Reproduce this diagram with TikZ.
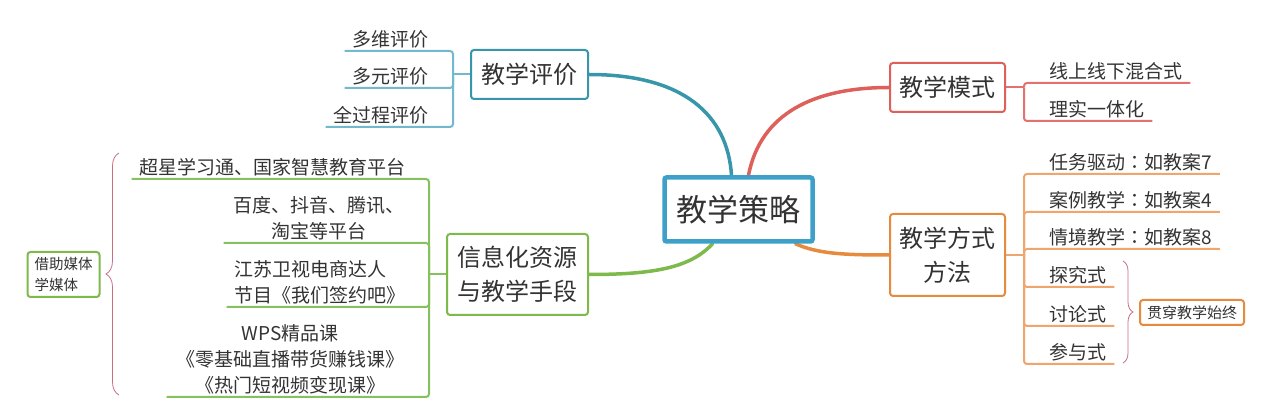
\documentclass[tikz,border=0pt]{standalone}
\usepackage{fontspec}
\newfontfamily\cjk{Noto Sans CJK SC}
\newfontfamily\cjktc{Noto Sans CJK TC}
\newcommand\midcolon{{\cjktc ：}}
\usepackage{tikz}
\usetikzlibrary{positioning, backgrounds, decorations.pathreplacing}
\usepackage{xcolor}
\definecolor{mapink}{RGB}{51,51,51}
\definecolor{hubblue}{RGB}{60,160,200}
\definecolor{evalteal}{RGB}{55,150,170}
\definecolor{evalleaf}{RGB}{115,185,205}
\definecolor{modered}{RGB}{222,96,90}
\definecolor{modeleaf}{RGB}{228,112,112}
\definecolor{methodorange}{RGB}{230,138,62}
\definecolor{methodleaf}{RGB}{238,165,110}
\definecolor{infogreen}{RGB}{125,185,75}
\definecolor{infoleaf}{RGB}{135,192,95}
\definecolor{bracepink}{RGB}{200,110,130}

\begin{document}
\begin{tikzpicture}[x=1pt, y=-1pt,
  hub/.style={draw=hubblue, line width=4.5pt, fill=white, rounded corners=2pt,
              minimum width=148, minimum height=64, text=mapink,
              font=\cjk\fontsize{31}{36}\selectfont},
  topic/.style={draw, line width=2pt, fill=white, rounded corners=3pt,
                minimum width=115, minimum height=49, align=center, text=mapink,
                font=\cjk\fontsize{24}{34}\selectfont},
  leaf/.style={inner xsep=8pt, inner ysep=3pt, align=center, text=mapink,
               font=\cjk\fontsize{19}{26}\selectfont},
  note/.style={draw, line width=2pt, fill=white, rounded corners=3pt,
               inner xsep=7pt, text=mapink, font=\cjk\fontsize{14.5}{21}\selectfont},
  branch/.style={line width=3.5pt, line cap=round},
  twig/.style={line width=2pt, rounded corners=3pt},
  curly/.style={draw=bracepink, line width=0.8pt, decorate,
                decoration={brace, amplitude=#1}},
]
  \useasboundingbox (0,0) rectangle (1280,419);

  \node[hub] (hub) at (738.5,209.5) {教学策略};

  \node[topic, draw=evalteal, minimum width=117] (eval) at (529.5,74.5) {教学评价};
  \node[topic, draw=modered] (mode) at (947.5,87.5) {教学模式};
  \node[topic, draw=methodorange, minimum height=82] (method) at (947.5,255) {教学方式\\方法};
  \node[topic, draw=infogreen, minimum width=141, minimum height=81] (info) at (517.5,274.5) {信息化资源\\与教学手段};

  \begin{scope}[on background layer]
    \draw[branch, evalteal] (eval.east) .. controls +(95,0) and +(-4,-60) .. ([xshift=-7]hub.north);
    \draw[branch, modered] ([xshift=10]hub.north) .. controls +(12,-62) and +(-75,0) .. (mode.west);
    \draw[branch, infogreen] ([xshift=-26]hub.south) .. controls +(-22,24) and +(65,0) .. (info.east);
    \draw[branch, methodorange] ([xshift=57]hub.south) .. controls +(22,10) and +(-45,0) .. (method.west);
  \end{scope}

  % evaluation
  \coordinate (evaltrunk) at ([xshift=-17]eval.west);
  \node[leaf, anchor=south east] (e1) at (437,51) {多维评价};
  \node[leaf, anchor=south east] (e2) at (437,88) {多元评价};
  \node[leaf, anchor=south east] (e3) at (437,127) {全过程评价};
  \draw[twig, evalleaf] (eval.west) -- (evaltrunk);
  \foreach \leafname in {e1,e2,e3}
    \draw[twig, evalleaf] (evaltrunk) |- (\leafname.south west);

  % mode
  \coordinate (modetrunk) at ([xshift=18]mode.east);
  \node[leaf, anchor=south west] (m1) at (1041,83) {线上线下混合式};
  \node[leaf, anchor=south west] (m2) at (1041,121) {理实一体化};
  \draw[twig, modeleaf] (mode.east) -- (modetrunk);
  \foreach \leafname in {m1,m2}
    \draw[twig, modeleaf] (modetrunk) |- (\leafname.south east);

  % methods
  \coordinate (methodtrunk) at ([xshift=18]method.east);
  \node[leaf, anchor=south west] (w1) at (1041,174) {任务驱动\midcolon 如教案7};
  \node[leaf, anchor=south west] (w2) at (1041,212) {案例教学\midcolon 如教案4};
  \node[leaf, anchor=south west] (w3) at (1041,249) {情境教学\midcolon 如教案8};
  \node[leaf, anchor=south west] (w4) at (1041,287) {探究式};
  \node[leaf, anchor=south west] (w5) at (1041,326) {讨论式};
  \node[leaf, anchor=south west] (w6) at (1041,364) {参与式};
  \draw[twig, methodleaf] (method.east) -- (methodtrunk);
  \foreach \leafname in {w1,w2,w3,w4,w5,w6}
    \draw[twig, methodleaf] (methodtrunk) |- (\leafname.south east);

  \coordinate (spantop) at (1123,261);
  \coordinate (spanbottom) at (1123,363);
  \draw[curly=10] (spantop) -- (spanbottom);
  \node[note, draw=methodorange, font=\cjk\fontsize{15}{18}\selectfont,
        minimum height=25] (span) at (1192,312.5) {贯穿教学始终};

  % resources
  \coordinate (infotrunk) at ([xshift=-17]info.west);
  \node[leaf, anchor=south east] (r1) at (414,179) {超星学习通、国家智慧教育平台};
  \node[leaf, anchor=south east, minimum width=190] (r2) at (414,243) {百度、抖音、腾讯、\\淘宝等平台};
  \node[leaf, anchor=south east, align=left] (r3) at (414,307) {江苏卫视电商达人\\节目《我们签约吧》};
  \node[leaf, anchor=south east, minimum width=247] (r4) at (414,397) {WPS精品课\\《零基础直播带货赚钱课》\\《热门短视频变现课》};
  \draw[twig, infoleaf] (info.west) -- (infotrunk);
  \foreach \leafname in {r1,r2,r3,r4}
    \draw[twig, infoleaf] (infotrunk) |- (\leafname.south west);

  \coordinate (mediatop) at (119,153);
  \coordinate (mediabottom) at (119,395);
  \draw[curly=13] (mediabottom) -- (mediatop);
  \node[note, draw=infogreen, align=left, minimum height=45] (media) at (63.5,274.5) {借助媒体\\学媒体};
\end{tikzpicture}
\end{document}
